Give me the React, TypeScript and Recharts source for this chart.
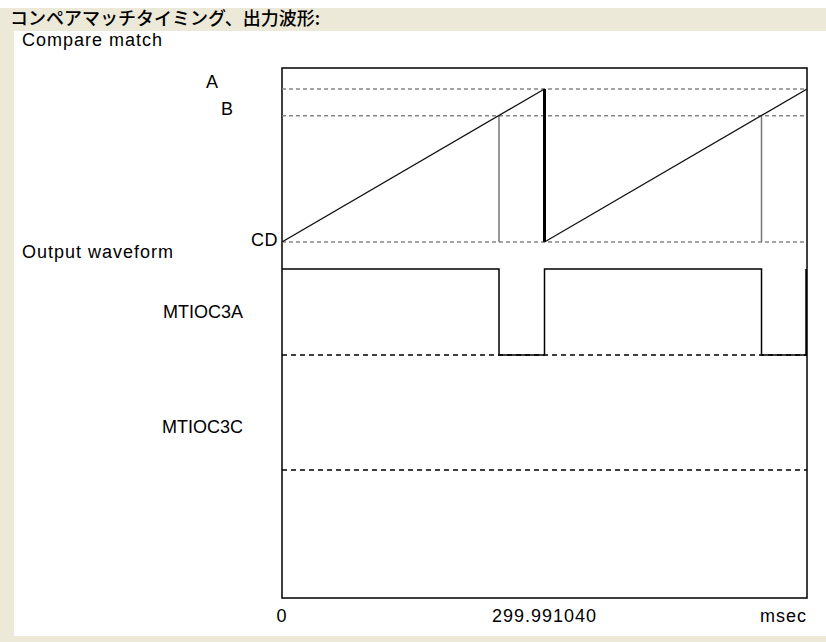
import React from 'react';
import { LineChart, Line, XAxis, YAxis, ReferenceLine, ReferenceArea } from 'recharts';

// timing (msec)
const PERIOD = 299.99104;
const X_TICKS = [0, PERIOD, PERIOD * 2];
const X_TICK_LABELS = ['0', '299.991040', 'msec'];

// compare register levels (counter %)
const LEVEL_A = 100;
const LEVEL_B = 82.5;
const LEVEL_CD = 0;

// counter ramp, two periods
const rampSeg1 = [{ t: 0, v: 0 }, { t: PERIOD, v: 100 }];
const rampSeg2 = [{ t: PERIOD, v: 0 }, { t: PERIOD * 2, v: 100 }];
const dropData = [{ t: PERIOD, v: 100 }, { t: PERIOD, v: 0 }];

// compare match B times
const matchBTimes = [248, 548];

// MTIOC3A output levels
const out3aT = [0, 248, 248, PERIOD, PERIOD, 548, 548, PERIOD * 2];
const out3aV = [1, 1, 0, 0, 1, 1, 0, 0];
const endEdge = [{ t: PERIOD * 2, v: 0 }, { t: PERIOD * 2, v: 1 }];

const FONT = '"Liberation Sans", Arial, sans-serif';
const JP_FONT = '"Noto Sans CJK JP", sans-serif';
const FS = 18;
const LS = 1;

const out3aData = out3aT.map((t, i) => ({ t, v: out3aV[i] }));
const matchBData = matchBTimes.flatMap((t) => [
  { t, v: LEVEL_CD },
  { t, v: LEVEL_B },
  { t, v: null },
]);

function LevelLabel(props: any) {
  const { viewBox, text, dx = 0, dy = 0, ls = 0 } = props;
  if (!viewBox) return null;
  return (
    <text x={viewBox.x + dx} y={viewBox.y + dy} textAnchor="end" dominantBaseline="central"
      fontFamily={FONT} fontSize={FS} letterSpacing={ls} fill="#000">
      {text}
    </text>
  );
}

function TimeTick(props: any) {
  const { x, y, index } = props;
  const anchor = index === X_TICKS.length - 1 ? 'end' : 'middle';
  return (
    <text x={x} y={y} dy={16} textAnchor={anchor} fontFamily={FONT} fontSize={FS} letterSpacing={LS} fill="#000">
      {X_TICK_LABELS[index]}
    </text>
  );
}

export default function App() {
  return (
    <div style={{ position: 'absolute', left: 0, top: 0, width: 826, height: 642, background: '#fff', overflow: 'hidden' }}>
      <div style={{ position: 'absolute', left: 0, top: 8, width: 826, height: 634, background: '#ECE9D8' }} />
      <div style={{ position: 'absolute', left: 14, top: 31, width: 812, height: 605, background: '#fff' }} />
      <div style={{ position: 'absolute', left: 10, top: 6, fontFamily: JP_FONT, fontSize: 18, fontWeight: 500, color: '#000', lineHeight: '22px' }}>
        コンペアマッチタイミング、出力波形:
      </div>
      <div style={{ position: 'absolute', left: 22, top: 30, fontFamily: FONT, fontSize: FS, letterSpacing: LS, lineHeight: '20px' }}>Compare match</div>
      <div style={{ position: 'absolute', left: 22, top: 242, fontFamily: FONT, fontSize: FS, letterSpacing: LS, lineHeight: '20px' }}>Output waveform</div>

      <div style={{ position: 'absolute', left: 0, top: 0 }}>
        <LineChart width={826} height={642} margin={{ top: 68, right: 19, bottom: 14, left: 282 }}>
          <XAxis dataKey="t" type="number" domain={[0, PERIOD * 2]} ticks={X_TICKS} interval={0} axisLine={false}
            tickLine={false} height={30} tick={<TimeTick />} allowDataOverflow />
          <YAxis yAxisId="cmp" type="number" domain={[-232.7, 113.7]} hide allowDataOverflow />
          <YAxis yAxisId="o3a" type="number" domain={[-2.826, 3.337]} hide allowDataOverflow />
          <YAxis yAxisId="o3c" type="number" domain={[-1.488, 4.674]} hide allowDataOverflow />

          <ReferenceLine yAxisId="cmp" y={LEVEL_A} stroke="#858585" strokeWidth={1.5} strokeDasharray="4 3"
            label={<LevelLabel text="A" dx={-64} dy={-7} />} />
          <ReferenceLine yAxisId="cmp" y={LEVEL_B} stroke="#858585" strokeWidth={1.5} strokeDasharray="4 3"
            label={<LevelLabel text="B" dx={-49} dy={-7} />} />
          <ReferenceLine yAxisId="cmp" y={LEVEL_CD} stroke="#858585" strokeWidth={1.5} strokeDasharray="4 3"
            label={<LevelLabel text="CD" dx={-4} dy={-2} ls={0.5} />} />
          <ReferenceLine yAxisId="o3a" y={0} stroke="#000" strokeWidth={1.5} strokeDasharray="5 4"
            label={<LevelLabel text="MTIOC3A" dx={-39} dy={-43} />} />
          <ReferenceLine yAxisId="o3c" y={0} stroke="#000" strokeWidth={1.5} strokeDasharray="5 4"
            label={<LevelLabel text="MTIOC3C" dx={-39} dy={-43} />} />

          <Line yAxisId="cmp" data={matchBData} dataKey="v" stroke="#777" strokeWidth={1.5} dot={false}
            isAnimationActive={false} connectNulls={false} />
          <Line yAxisId="cmp" data={rampSeg1} dataKey="v" stroke="#111" strokeWidth={1.3} dot={false} isAnimationActive={false} />
          <Line yAxisId="cmp" data={rampSeg2} dataKey="v" stroke="#111" strokeWidth={1.3} dot={false} isAnimationActive={false} />
          <Line yAxisId="cmp" data={dropData} dataKey="v" stroke="#000" strokeWidth={3} dot={false} isAnimationActive={false} />
          <Line yAxisId="o3a" data={out3aData} dataKey="v" stroke="#000" strokeWidth={1.5} dot={false} isAnimationActive={false} />
          <Line yAxisId="o3a" data={endEdge} dataKey="v" stroke="#000" strokeWidth={3.5} dot={false} isAnimationActive={false} />

          <ReferenceArea yAxisId="cmp" x1={0} x2={PERIOD * 2} y1={-232.7} y2={113.7} fill="none"
            stroke="#000" strokeWidth={1.5} ifOverflow="visible" />
        </LineChart>
      </div>
    </div>
  );
}
